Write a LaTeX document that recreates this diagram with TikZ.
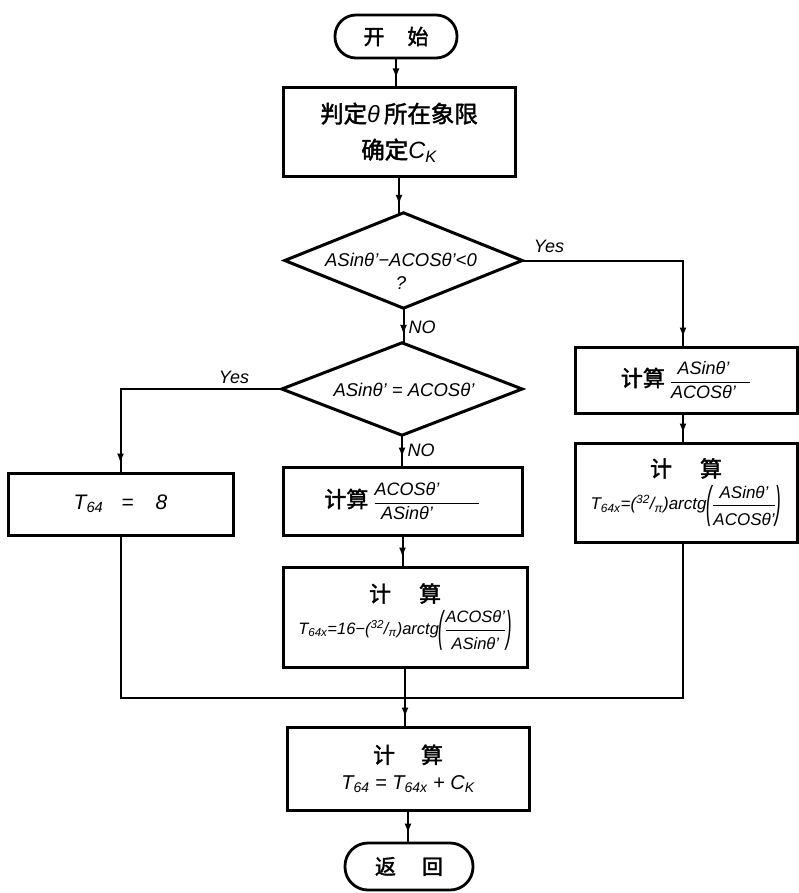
\documentclass[tikz,border=0pt]{standalone}
\usepackage{fontspec}
\usepackage{amsmath}
\setmainfont{Liberation Sans}
\newfontfamily\cjk[FakeBold=1.8]{Noto Sans CJK SC}
\newcommand{\zh}[1]{{\cjk\upshape #1}}
\newcommand{\tallpar}[1]{\raisebox{-0.45em}{\scalebox{1}[2.6]{#1}}}
\newcommand{\numr}[1]{\text{#1}\rule[-3pt]{0pt}{3pt}}
\newcommand{\denr}[1]{\rule{0pt}{17pt}\text{#1}}
\usetikzlibrary{arrows.meta,decorations.markings}
\begin{document}
\begin{tikzpicture}[x=1pt,y=-1pt,
  box/.style={draw, line width=3pt, rectangle, inner sep=0pt, align=center,
    font=\itshape\fontsize{18}{22}\selectfont},
  term/.style={draw, line width=2.8pt, rounded corners=21pt, inner sep=0pt,
    font=\fontsize{21}{24}\selectfont},
  conn/.style={line width=2pt},
  flow/.style={conn, postaction={decorate}, decoration={markings,
    mark=at position -8pt with {\arrow{Latex[length=10pt,width=7pt]}}}},
  lab/.style={font=\itshape\fontsize{18}{20}\selectfont, inner sep=0pt},
  txt/.style={font=\itshape\fontsize{18.5}{23}\selectfont, align=center, inner sep=0pt},
  dia/.style={inner sep=0pt}
]
\useasboundingbox (0,0) rectangle (799,893);

% terminals
\node[term, minimum width=122pt, minimum height=43pt] (st) at (396,36.5) {\zh{开\hspace{23pt}始}};
\node[term, rounded corners=23pt, minimum width=128pt, minimum height=47pt] (ret) at (409,866.5) {\zh{返\hspace{26pt}回}};

% first box
\node[box, minimum width=232pt, minimum height=89pt, font=\itshape\fontsize{23.5}{36}\selectfont] (b1) at (399,132.5)
  {\zh{判定}θ\,\zh{所在象限}\\\zh{确定}C\textsubscript{K}};

% decision 1
\node[dia, minimum width=237pt, minimum height=95pt] (d1) at (403.5,260.5) {};
\draw[line width=3pt, line join=miter] (d1.north) -- (d1.east) -- (d1.south) -- (d1.west) -- cycle;
\node[txt] (d1t) at (401,271) {ASinθ'−ACOSθ'<0\\?};

% decision 2
\node[dia, minimum width=240pt, minimum height=92pt] (d2) at (402,389) {};
\draw[line width=3pt, line join=miter] (d2.north) -- (d2.east) -- (d2.south) -- (d2.west) -- cycle;
\node[txt] (d2t) at (404,390) {ASinθ' = ACOSθ'};

% boxes
\node[box, minimum width=225pt, minimum height=62pt, font=\itshape\fontsize{21}{24}\selectfont] (lb) at (120.5,504)
  {T\textsubscript{64}\hspace{18pt}=\hspace{22pt}8};
\node[box, minimum width=239pt, minimum height=68pt] (m1) at (402.5,501)
  {\zh{\fontsize{22}{24}\selectfont 计算}\ \(\dfrac{\text{ACOSθ'}\hspace{40pt}}{\text{ASinθ'}\hspace{40pt}}\)};
\node[box, minimum width=244pt, minimum height=100pt, font=\itshape\fontsize{16.5}{20}\selectfont] (m2) at (405,617)
  {\zh{\fontsize{22}{24}\selectfont 计\hspace{28pt}算}\\[6pt]
   T\textsubscript{64x}=16−(\textsuperscript{32}/\textsubscript{π})arctg\tallpar{(}\(\dfrac{\numr{ACOSθ'}}{\denr{ASinθ'}}\)\tallpar{)}};
\node[box, minimum width=222pt, minimum height=66pt] (r1) at (686,380)
  {\zh{\fontsize{22}{24}\selectfont 计算}\ \(\dfrac{\text{ASinθ'}\hspace{14pt}}{\text{ACOSθ'}\hspace{14pt}}\)};
\node[box, minimum width=222pt, minimum height=99pt, font=\itshape\fontsize{17}{20}\selectfont] (r2) at (686,492.5)
  {\zh{\fontsize{22}{24}\selectfont 计\hspace{28pt}算}\\[6pt]
   T\textsubscript{64x}=(\textsuperscript{32}/\textsubscript{π})arctg\tallpar{(}\(\dfrac{\numr{ASinθ'}}{\denr{ACOSθ'}}\)\tallpar{)}};
\node[box, minimum width=242pt, minimum height=83pt, font=\itshape\fontsize{20}{26}\selectfont] (bt) at (408,768.5)
  {\zh{\fontsize{22}{24}\selectfont 计\hspace{26pt}算}\\
   T\textsubscript{64}\ =\ T\textsubscript{64x}\ +\ C\textsubscript{K}};

% labels
\node[lab] (y1) at (549,246) {Yes};
\node[lab] (y2) at (234,377) {Yes};
\node[lab] (n1) at (422,327) {NO};
\node[lab] (n2) at (421,450) {NO};

% connectors
\coordinate (merge) at (405,698);
\draw[flow] (st.south) -- (st.south |- b1.north);
\draw[flow] (b1.south) -- (b1.south |- d1.north);
\draw[flow] (d1.south) -- (d1.south |- d2.north);
\draw[flow] (d1.east) -| ([xshift=-3pt]r1.north);
\draw[flow] ([xshift=-3pt]r1.south) -- ([xshift=-3pt]r2.north);
\draw[flow] (d2.west) -| (lb.north);
\draw[flow] (d2.south) -- (d2.south |- m1.north);
\draw[flow] (m1.south) -- (m1.south |- m2.north);
\draw[flow] (m2.south) -- (m2.south |- bt.north);
\draw[conn] (lb.south) |- (merge);
\draw[conn] ([xshift=-3pt]r2.south) |- (merge);
\draw[flow] (bt.south) -- (bt.south |- ret.north);
\end{tikzpicture}
\end{document}
